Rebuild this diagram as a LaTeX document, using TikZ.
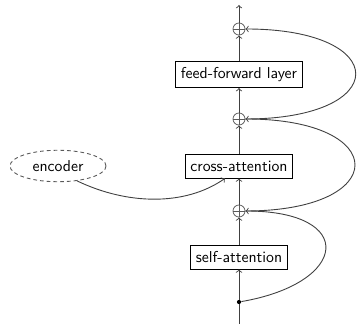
\documentclass[tikz,border=0pt]{standalone}
\usetikzlibrary{shapes.geometric,calc}
\begin{document}
\begin{tikzpicture}[x=0.6667pt,y=-0.6667pt, font=\sffamily\fontsize{10.5pt}{12pt}\selectfont,
  layer/.style={draw, line width=0.5pt, inner xsep=3.5pt, inner ysep=4pt, minimum height=16pt},
  plus/.style={circle, draw=black!65, line width=0.5pt, minimum size=8pt, inner sep=0pt,
    path picture={\draw[black!65, line width=0.5pt]
      (path picture bounding box.north)--(path picture bounding box.south)
      (path picture bounding box.west)--(path picture bounding box.east);}},
  conn/.style={draw=black!75, line width=0.6pt},
  arr/.style={conn, ->}]
\useasboundingbox (0,0) rectangle (359,324);

% main stack
\coordinate (in) at (239,324);
\node[circle, fill=black, inner sep=0pt, minimum size=2.8pt] (fork) at (239,302) {};
\node[layer] (sa) at (239,257) {self-attention};
\node[plus] (p1) at (239,211) {};
\node[layer] (ca) at (239,166) {cross-attention};
\node[plus] (p2) at (239,119) {};
\node[layer] (ff) at (239,74.5) {feed-forward layer};
\node[plus] (p3) at (239,29) {};
\coordinate (out) at (239,5);

% encoder input
\node[ellipse, draw=black!65, line width=0.6pt, dash pattern=on 2.5pt off 2pt,
  minimum width=64pt, minimum height=21pt, inner sep=1pt] (enc) at (58,166) {encoder};
\coordinate (caIn) at ($(ca.south)+(-14,0)$);

% vertical flow
\draw[conn] (in) -- (fork);
\draw[arr] (fork) -- (sa);
\draw[arr] (sa) -- (p1);
\draw[arr] (p1) -- (ca);
\draw[arr] (ca) -- (p2);
\draw[arr] (p2) -- (ff);
\draw[arr] (ff) -- (p3);
\draw[arr] (p3) -- (out);

% residual connections
\draw[arr] (fork) .. controls +(110,-19) and +(112,0) .. (p1.east);
\draw[arr] (p1.east) .. controls +(146,0) and +(146,0) .. (p2.east);
\draw[arr] (p2.east) .. controls +(147,0) and +(147,0) .. (p3.east);

% encoder to cross-attention
\draw[arr] (enc.-38) .. controls +(50,24) and +(-40,28) .. (caIn);
\end{tikzpicture}
\end{document}
